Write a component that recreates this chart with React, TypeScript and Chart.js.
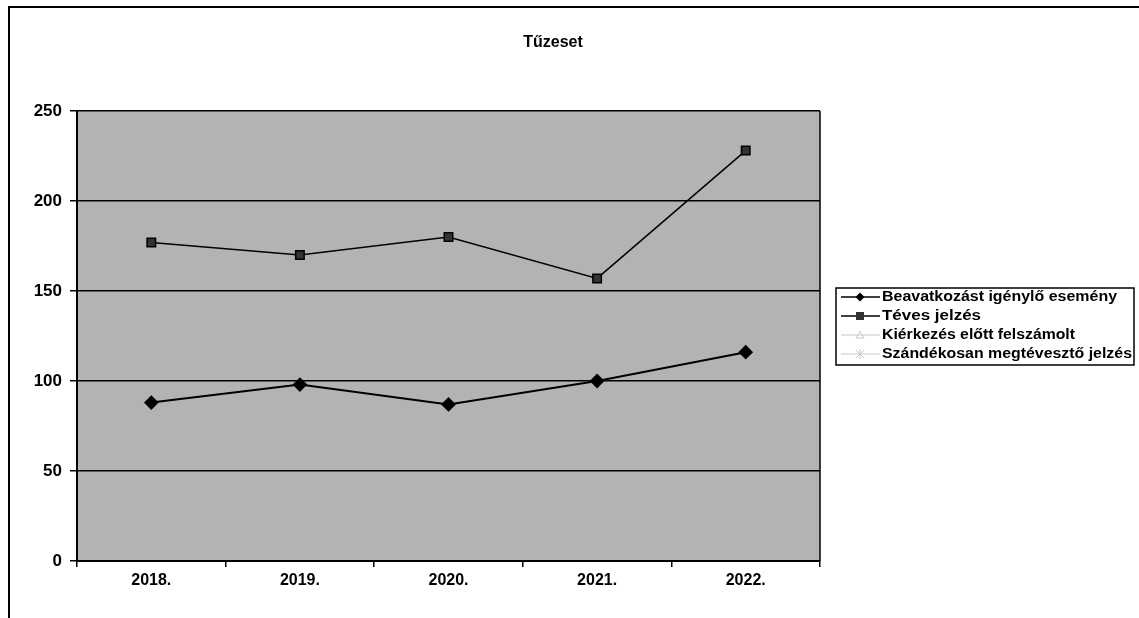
import React, { useEffect, useRef } from "react";
import { Chart, registerables } from "chart.js";

Chart.register(...registerables);

const chartTitle = "Tűzeset";
const categories = ["2018.", "2019.", "2020.", "2021.", "2022."];
const beavatkozas = [88, 98, 87, 100, 116];
const teves = [177, 170, 180, 157, 228];
const kierkezes: (number | null)[] = [null, null, null, null, null];
const szandekos: (number | null)[] = [null, null, null, null, null];
const seriesLabels = [
  "Beavatkozást igénylő esemény",
  "Téves jelzés",
  "Kiérkezés előtt felszámolt",
  "Szándékosan megtévesztő jelzés",
];
const yTicks = [0, 50, 100, 150, 200, 250];

const FONT = "'Liberation Sans', Arial, sans-serif";

const decorPlugin = {
  id: "decor",
  beforeDraw(chart: any) {
    const { ctx, chartArea } = chart;
    ctx.save();
    ctx.fillStyle = "#ffffff";
    ctx.fillRect(0, 0, chart.width, chart.height);
    ctx.fillStyle = "#b3b3b3";
    ctx.fillRect(chartArea.left, chartArea.top, chartArea.right - chartArea.left, chartArea.bottom - chartArea.top);
    // outer frame
    ctx.strokeStyle = "#000";
    ctx.lineWidth = 2;
    ctx.beginPath();
    ctx.moveTo(9, chart.height + 5);
    ctx.lineTo(9, 7);
    ctx.lineTo(chart.width + 5, 7);
    ctx.stroke();
    ctx.restore();
  },
  afterDraw(chart: any) {
    const { ctx, chartArea } = chart;
    ctx.save();
    // right border of plot
    ctx.strokeStyle = "#000";
    ctx.lineWidth = 1.5;
    ctx.beginPath();
    ctx.moveTo(chartArea.right, chartArea.top);
    ctx.lineTo(chartArea.right, chartArea.bottom);
    ctx.stroke();
    // title
    ctx.fillStyle = "#000";
    ctx.font = `bold 16px ${FONT}`;
    ctx.textAlign = "center";
    ctx.textBaseline = "middle";
    ctx.fillText(chartTitle, 553, 43);
    // legend
    const lx = 836, ly = 288, lw = 298, lh = 77;
    ctx.fillStyle = "#fff";
    ctx.fillRect(lx, ly, lw, lh);
    ctx.strokeStyle = "#000";
    ctx.lineWidth = 1.5;
    ctx.strokeRect(lx, ly, lw, lh);
    const rows = [297, 316, 335, 354];
    chart.data.datasets.forEach((ds: any, i: number) => {
      const y = rows[i];
      ctx.strokeStyle = ds.borderColor;
      ctx.lineWidth = i < 2 ? 1.5 : 1;
      ctx.beginPath();
      ctx.moveTo(841, y);
      ctx.lineTo(880, y);
      ctx.stroke();
      ctx.fillStyle = ds.pointBackgroundColor;
      ctx.strokeStyle = ds.pointBorderColor;
      ctx.lineWidth = 1;
      const cx = 860;
      if (ds.pointStyle === "rectRot") {
        ctx.beginPath();
        ctx.moveTo(cx, y - 4.5); ctx.lineTo(cx + 4.5, y); ctx.lineTo(cx, y + 4.5); ctx.lineTo(cx - 4.5, y); ctx.closePath();
        ctx.fill();
      } else if (ds.pointStyle === "rect") {
        ctx.fillRect(cx - 4, y - 4, 8, 8);
      } else if (ds.pointStyle === "triangle") {
        ctx.beginPath();
        ctx.moveTo(cx, y - 4); ctx.lineTo(cx + 4, y + 3); ctx.lineTo(cx - 4, y + 3); ctx.closePath();
        ctx.stroke();
      } else {
        ctx.beginPath();
        ctx.moveTo(cx - 4, y - 4); ctx.lineTo(cx + 4, y + 4);
        ctx.moveTo(cx + 4, y - 4); ctx.lineTo(cx - 4, y + 4);
        ctx.moveTo(cx, y - 5); ctx.lineTo(cx, y + 5);
        ctx.stroke();
      }
      ctx.fillStyle = "#000";
      ctx.font = `bold 14px ${FONT}`;
      ctx.textAlign = "left";
      ctx.textBaseline = "middle";
      const text = ds.label as string;
      const w = ctx.measureText(text).width;
      const target = [235, 99, 193, 250][i];
      ctx.save();
      ctx.translate(882, y);
      ctx.scale(target / w, 1);
      ctx.fillText(text, 0, 0);
      ctx.restore();
    });
    ctx.restore();
  },
};

export default function App() {
  const ref = useRef<HTMLCanvasElement>(null);
  useEffect(() => {
    if (!ref.current) return;
    const chart = new Chart(ref.current, {
      type: "line",
      data: {
        labels: categories,
        datasets: [
          {
            label: seriesLabels[0], data: beavatkozas, borderColor: "#000", borderWidth: 2,
            pointStyle: "rectRot", pointRadius: 6, pointBackgroundColor: "#000", pointBorderColor: "#000",
          } as any,
          {
            label: seriesLabels[1], data: teves, borderColor: "#000", borderWidth: 1.5,
            pointStyle: "rect", pointRadius: 6, pointBackgroundColor: "#333", pointBorderColor: "#000",
          },
          {
            label: seriesLabels[2], data: kierkezes, borderColor: "#c8c8c8", borderWidth: 1,
            pointStyle: "triangle", pointRadius: 4, pointBackgroundColor: "#c8c8c8", pointBorderColor: "#c8c8c8",
          },
          {
            label: seriesLabels[3], data: szandekos, borderColor: "#c8c8c8", borderWidth: 1,
            pointStyle: "star", pointRadius: 4, pointBackgroundColor: "#c8c8c8", pointBorderColor: "#c8c8c8",
          },
        ],
      },
      options: {
        animation: false,
        responsive: false,
        maintainAspectRatio: false,
        layout: { padding: { left: 0, right: 1139 - 820, top: 111, bottom: 0 } },
        plugins: { legend: { display: false }, title: { display: false }, tooltip: { enabled: false } },
        scales: {
          x: {
            offset: true,
            grid: { offset: true, drawOnChartArea: false, color: "#000", lineWidth: 1.5, tickLength: 6, tickColor: "#000" },
            border: { color: "#000", width: 2 },
            ticks: { color: "#000", font: { family: FONT, size: 16, weight: "bold" }, padding: 4, maxRotation: 0 },
            afterFit: (s: any) => { s.height = 618 - 561; },
          },
          y: {
            min: 0, max: 250,
            afterBuildTicks: (s: any) => { s.ticks = yTicks.map((v) => ({ value: v })); },
            grid: { color: "#000", lineWidth: 1.5, tickLength: 7, tickColor: "#000" },
            border: { color: "#000", width: 2 },
            ticks: { color: "#000", font: { family: FONT, size: 17, weight: "bold" }, padding: 8 },
            afterFit: (s: any) => { s.width = 77; },
          },
        },
      },
      plugins: [decorPlugin],
    });
    return () => chart.destroy();
  }, []);
  return (
    <div style={{ position: "absolute", left: 0, top: 0, width: 1139, height: 618 }}>
      <canvas ref={ref} width={1139} height={618} style={{ width: 1139, height: 618 }} />
    </div>
  );
}
